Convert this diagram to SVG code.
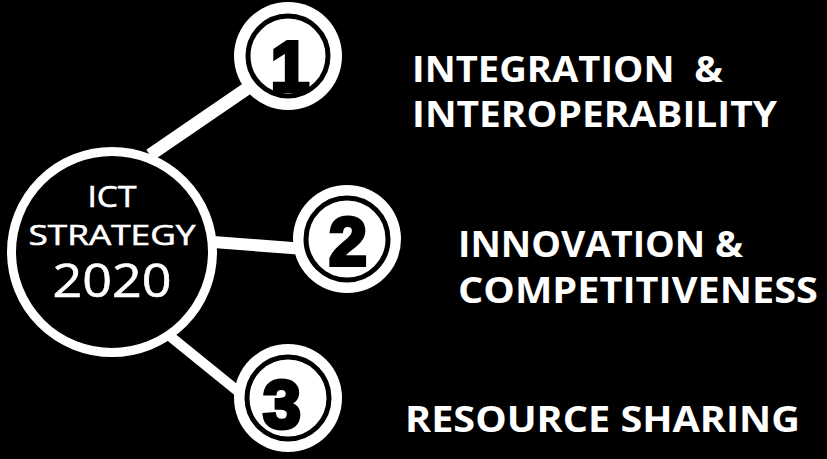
<svg xmlns="http://www.w3.org/2000/svg" width="827" height="459" viewBox="0 0 827 459">
  <style>
    .link { stroke: #fff; stroke-linecap: butt; fill: none; }
    .hub { fill: #000; stroke: #fff; stroke-width: 9; }
    .hub-text { fill: #fff; stroke: #fff; stroke-width: 0.6; font-family: "Open Sans", "Liberation Sans", sans-serif; text-anchor: middle; }
    .badge-outer { fill: #fff; }
    .badge-gap { fill: none; stroke: #000; stroke-width: 5; }
    .digit { fill: #000; stroke: #000; stroke-width: 4; stroke-linejoin: miter; font-family: "Liberation Sans", Arial, sans-serif; font-weight: 700; text-anchor: middle; }
    .label { fill: #fff; font-family: "Open Sans", "Liberation Sans", sans-serif; font-weight: 700; font-size: 35px; }
  </style>
  <rect width="827" height="459" fill="#000"/>

  <!-- connectors from the hub to the three numbered badges -->
  <g id="connectors">
    <line class="link" x1="150" y1="155" x2="255" y2="83" stroke-width="13"/>
    <line class="link" x1="200" y1="241" x2="305" y2="249" stroke-width="12"/>
    <line class="link" x1="150" y1="320" x2="245" y2="397" stroke-width="10"/>
  </g>

  <g id="hub">
    <circle class="hub" cx="112" cy="252" r="100.5"/>
    <text class="hub-text" x="112" y="207" font-size="30" textLength="49" lengthAdjust="spacingAndGlyphs">ICT</text>
    <text class="hub-text" x="112" y="245" font-size="28" textLength="167" lengthAdjust="spacingAndGlyphs">STRATEGY</text>
    <text class="hub-text" x="112" y="297" font-size="45" textLength="119" lengthAdjust="spacingAndGlyphs">2020</text>
  </g>

  <g id="badge-1">
    <circle class="badge-outer" cx="288" cy="56" r="54"/>
    <circle class="badge-gap" cx="288" cy="56" r="40"/>
    <text class="digit" x="290" y="91" font-size="70">1</text>
  </g>

  <g id="badge-2">
    <circle class="badge-outer" cx="347" cy="239" r="54"/>
    <circle class="badge-gap" cx="347" cy="239" r="41"/>
    <text class="digit" x="348" y="265" font-size="68">2</text>
  </g>

  <g id="badge-3">
    <circle class="badge-outer" cx="288" cy="398" r="54"/>
    <circle class="badge-gap" cx="288" cy="398" r="41"/>
    <text class="digit" x="282" y="428" font-size="68">3</text>
  </g>

  <g id="label-1">
    <text class="label" x="412" y="82" textLength="311" lengthAdjust="spacingAndGlyphs" xml:space="preserve">INTEGRATION  &amp;</text>
    <text class="label" x="412" y="127" textLength="365" lengthAdjust="spacingAndGlyphs">INTEROPERABILITY</text>
  </g>

  <g id="label-2">
    <text class="label" x="458" y="257" textLength="285" lengthAdjust="spacingAndGlyphs">INNOVATION &amp;</text>
    <text class="label" x="458" y="303" textLength="360" lengthAdjust="spacingAndGlyphs">COMPETITIVENESS</text>
  </g>

  <g id="label-3">
    <text class="label" x="405" y="432" textLength="395" lengthAdjust="spacingAndGlyphs">RESOURCE SHARING</text>
  </g>
</svg>
